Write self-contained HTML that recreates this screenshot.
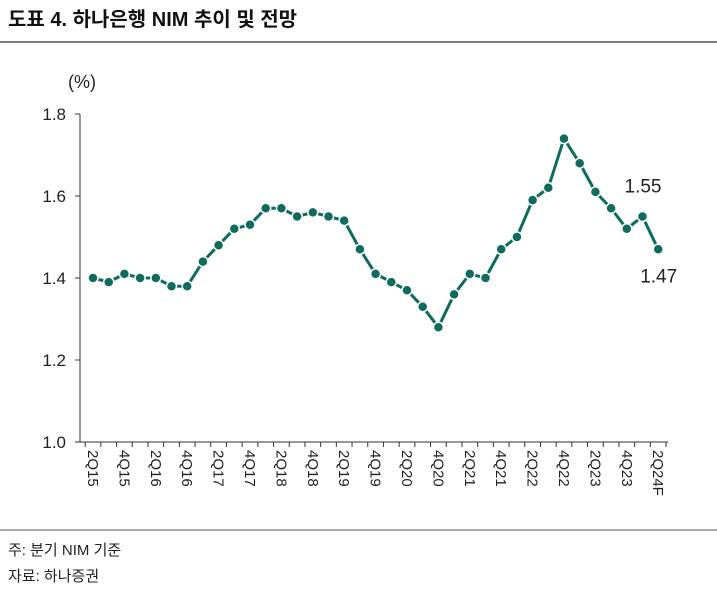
<!DOCTYPE html>
<html><head><meta charset="utf-8">
<style>
body{margin:0;background:#fff;width:717px;height:593px;overflow:hidden;font-family:"Liberation Sans","Noto Sans CJK KR",sans-serif}
</style></head>
<body>
<svg width="717" height="593" style="position:absolute;left:0;top:0">
<text x="8" y="26" font-size="20" font-weight="bold" fill="#111" font-family="Liberation Sans, Noto Sans CJK KR, sans-serif">도표 4. 하나은행 NIM 추이 및 전망</text>
<line x1="0" y1="42" x2="717" y2="42" stroke="#555" stroke-width="1.5"/>
<text x="68" y="88" font-size="18" fill="#222">(%)</text>
<g id="axes"></g>
<g id="series"></g>
<line x1="0" y1="530" x2="717" y2="530" stroke="#555" stroke-width="1"/>
<text x="8" y="555" font-size="15" fill="#222" font-family="Liberation Sans, Noto Sans CJK KR, sans-serif">주: 분기 NIM 기준</text>
<text x="8" y="581" font-size="15" fill="#222" font-family="Liberation Sans, Noto Sans CJK KR, sans-serif">자료: 하나증권</text>
</svg>
<script>
const values=[1.40,1.39,1.41,1.40,1.40,1.38,1.38,1.44,1.48,1.52,1.53,1.57,1.57,1.55,1.56,1.55,1.54,1.47,1.41,1.39,1.37,1.33,1.28,1.36,1.41,1.40,1.47,1.50,1.59,1.62,1.74,1.68,1.61,1.57,1.52,1.55,1.47];
const xLabels=["2Q15","4Q15","2Q16","4Q16","2Q17","4Q17","2Q18","4Q18","2Q19","4Q19","2Q20","4Q20","2Q21","4Q21","2Q22","4Q22","2Q23","4Q23","2Q24F"];
const yTicks=[1.0,1.2,1.4,1.6,1.8];
const NS="http://www.w3.org/2000/svg";
const x0=93,dx=15.7,plotLeft=80;
const xs=i=>x0+i*dx;
const ys=v=>442-(v-1.0)/0.8*328;
const ax=document.getElementById('axes'),se=document.getElementById('series');
function mk(tag,at,parent){const e=document.createElementNS(NS,tag);for(const k in at)e.setAttribute(k,at[k]);parent.appendChild(e);return e;}
let yl=mk('line',{x1:plotLeft,y1:ys(1.8),x2:plotLeft,y2:ys(1.0),stroke:'#333','stroke-width':1},ax);


let xl=mk('line',{x1:plotLeft,y1:ys(1.0),x2:668,y2:ys(1.0),stroke:'#333','stroke-width':1},ax);


yTicks.forEach(t=>{
 let tk=mk('line',{x1:plotLeft-5,y1:ys(t),x2:plotLeft,y2:ys(t),stroke:'#333'},ax);
 
 
 let tx=mk('text',{x:plotLeft-14,y:ys(t)+6,'font-size':17,'text-anchor':'end',fill:'#222'},ax);
 tx.textContent=t.toFixed(1);
 
 
});
for(let i=0;i<=values.length;i++){
 const x=x0+(i-0.5)*dx;
 let tk=mk('line',{x1:x,y1:ys(1.0),x2:x,y2:ys(1.0)+5,stroke:'#333'},ax);
 
 
}
xLabels.forEach((l,j)=>{
 const x=xs(j*2)-5;
 let tx=mk('text',{x:x,y:ys(1.0)+8,'font-size':15,fill:'#222',transform:`rotate(90 ${x} ${ys(1.0)+8})`},ax);
 tx.textContent=l;
 
 
});
let pl=mk('polyline',{points:values.map((v,i)=>xs(i)+','+ys(v)).join(' '),fill:'none',stroke:'#0e6b5e','stroke-width':3,'stroke-linejoin':'round'},se);


values.forEach((v,i)=>{
 let c=mk('circle',{cx:xs(i),cy:ys(v),r:5,fill:'#0e6b5e',stroke:'#fff','stroke-width':1.5},se);
 
 
});
const n=values.length;
let a1=mk('text',{x:xs(n-2)-18,y:ys(values[n-2])-24,'font-size':19,fill:'#222'},se);
a1.textContent=values[n-2].toFixed(2);


let a2=mk('text',{x:xs(n-1)-18,y:ys(values[n-1])+33,'font-size':19,fill:'#222'},se);
a2.textContent=values[n-1].toFixed(2);


</script>
</body></html>
